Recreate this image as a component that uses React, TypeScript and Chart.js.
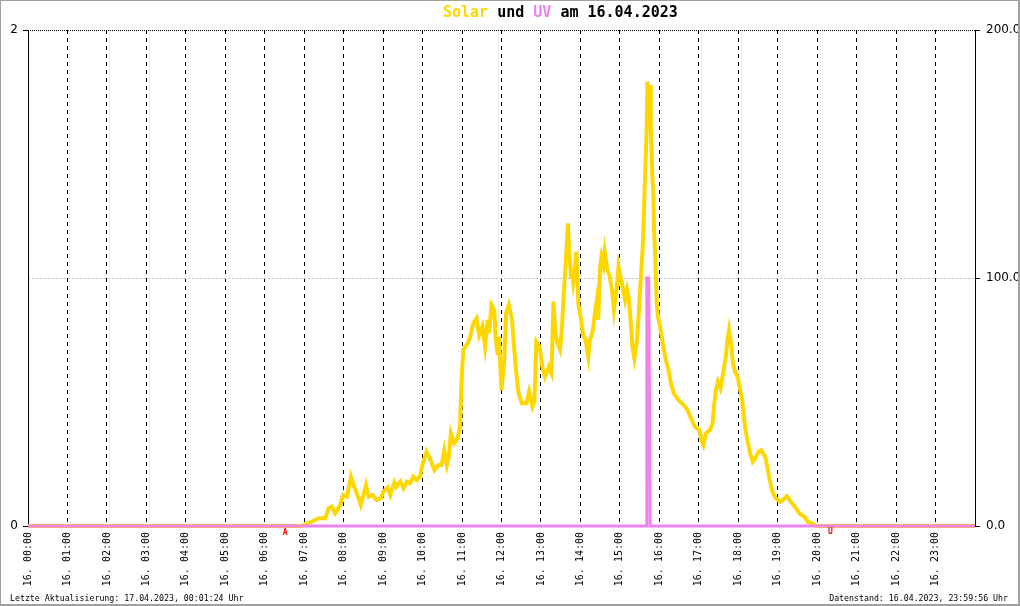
import React, { useEffect, useRef } from "react";
import { Chart, registerables } from "chart.js";

Chart.register(...registerables);

// ---- data ----
const solarTimes = [
  "00:00", "06:57", "06:59", "07:03", "07:11", "07:22", "07:32", "07:37", "07:42", "07:47", "07:55", "07:59",
  "08:05", "08:11", "08:16", "08:22", "08:26", "08:34", "08:38", "08:44", "08:50", "08:57",
  "09:00", "09:07", "09:11", "09:17", "09:20", "09:26", "09:31", "09:36", "09:41", "09:46", "09:51", "09:56", "09:59",
  "10:06", "10:11", "10:18", "10:24", "10:29", "10:33", "10:37", "10:40", "10:43", "10:48", "10:53", "10:57", "10:59",
  "11:02", "11:07", "11:12", "11:17", "11:22", "11:26", "11:31", "11:35", "11:39", "11:41", "11:45", "11:49", "11:51", "11:54", "11:56",
  "12:00", "12:04", "12:07", "12:11", "12:16", "12:19", "12:22", "12:26", "12:31", "12:38", "12:42", "12:47", "12:50", "12:53", "12:58",
  "13:02", "13:06", "13:12", "13:16", "13:19", "13:22", "13:25", "13:29", "13:32", "13:35", "13:38", "13:41", "13:43", "13:46", "13:47", "13:49", "13:52", "13:54", "13:57",
  "14:01", "14:04", "14:08", "14:12", "14:14", "14:19", "14:22", "14:25", "14:27", "14:30", "14:32", "14:35", "14:37", "14:41", "14:44", "14:48", "14:51", "14:55", "14:58",
  "15:01", "15:05", "15:08", "15:11", "15:14", "15:17", "15:19", "15:22", "15:26", "15:29", "15:32", "15:35", "15:37", "15:39", "15:41", "15:42", "15:44", "15:46", "15:47", "15:49", "15:51", "15:52", "15:54", "15:56", "15:58",
  "16:02", "16:06", "16:10", "16:14", "16:17", "16:22", "16:29", "16:37", "16:43", "16:47", "16:54",
  "17:01", "17:04", "17:07", "17:11", "17:17", "17:21", "17:23", "17:26", "17:29", "17:33", "17:37", "17:41", "17:43", "17:46", "17:49", "17:52", "17:55", "17:59",
  "18:02", "18:06", "18:08", "18:11", "18:14", "18:18", "18:22", "18:26", "18:31", "18:35", "18:41", "18:44", "18:48", "18:52", "18:57",
  "19:04", "19:08", "19:14", "19:20", "19:26", "19:33", "19:40", "19:46", "19:54", "19:59", "24:00",
];
const solarValues = [
  0, 0, 0.4, 0.8, 1.7, 3.1, 3.1, 7.1, 7.8, 5.1, 8.5, 12.5,
  11.8, 19.9, 15.8, 11.8, 8.5, 16.5, 11.8, 12.5, 10.5, 11.2,
  13.8, 15.6, 12.5, 17.5, 15.8, 17.9, 15.2, 17.9, 17.2, 19.9, 18.5, 19.9, 23.9,
  30.0, 27.3, 22.6, 24.6, 24.6, 30.6, 24.6, 27.9, 37.4, 33.3, 35.3, 40.0, 57.5,
  71.0, 73.0, 75.7, 81.7, 83.7, 77.0, 80.4, 72.3, 83.1, 77.7, 89.1, 87.1, 76.3, 69.0, 76.3,
  54.8, 65.6, 85.8, 89.1, 83.1, 72.3, 62.9, 53.5, 49.5, 49.5, 54.2, 48.1, 50.1, 74.3, 72.3,
  64.2, 60.2, 64.2, 61.6, 90.5, 77.7, 73.7, 71.0, 80.4, 95.2, 107.3, 122.0, 110.0, 100.5, 103.2, 98.5, 105.2, 110.6, 89.1,
  83.1, 77.0, 75.0, 68.3, 74.4, 79.0, 85.8, 91.1, 83.1, 104.6, 108.6, 105.2, 110.6, 103.2, 101.2, 95.2, 87.1, 95.8, 104.6,
  100.5, 95.2, 91.1, 95.2, 91.1, 80.4, 72.3, 67.6, 75.0, 87.1, 100.5, 114.0, 130.1, 146.2, 162.4, 179.2, 170.4, 177.8, 160.4, 143.5, 132.8, 119.4, 107.3, 89.8, 84.4,
  79.0, 72.3, 66.9, 62.9, 58.2, 53.5, 50.8, 48.8, 46.8, 44.1, 40.0,
  38.7, 34.7, 32.7, 37.4, 38.7, 41.4, 48.1, 54.8, 58.2, 55.5, 61.6, 68.3, 73.7, 79.0, 73.7, 65.6, 62.2, 60.2,
  56.2, 50.8, 45.4, 38.7, 34.7, 29.3, 25.9, 27.3, 30.0, 30.6, 27.9, 23.9, 18.5, 13.8, 11.2,
  9.8, 10.5, 12.1, 9.8, 7.8, 5.1, 3.8, 1.7, 0.8, 0, 0,
];
const uvTimes = ["00:00", "15:40", "15:41", "15:44", "15:45", "15:46", "24:00"];
const uvValues = [0, 0, 1.0, 1.0, 0.5, 0, 0];

const hourTickLabels = [
  "16. 00:00", "16. 01:00", "16. 02:00", "16. 03:00", "16. 04:00", "16. 05:00",
  "16. 06:00", "16. 07:00", "16. 08:00", "16. 09:00", "16. 10:00", "16. 11:00",
  "16. 12:00", "16. 13:00", "16. 14:00", "16. 15:00", "16. 16:00", "16. 17:00",
  "16. 18:00", "16. 19:00", "16. 20:00", "16. 21:00", "16. 22:00", "16. 23:00",
];
const uvAxisRange = [0, 2];
const solarAxisRange = [0, 200];
const sunriseTime = "06:31";
const sunsetTime = "20:20";
const titleParts: [string, string][] = [
  ["Solar", "#FFD700"],
  [" und ", "#000000"],
  ["UV", "#EE82EE"],
  [" am 16.04.2023", "#000000"],
];
const footerLeft = "Letzte Aktualisierung: 17.04.2023, 00:01:24 Uhr";
const footerRight = "Datenstand: 16.04.2023, 23:59:56 Uhr";

const toHours = (t: string) => {
  const [h, m] = t.split(":").map(Number);
  return h + m / 60;
};

const MONO = '"DejaVu Sans Mono", monospace';

const textPlugin = {
  id: "extraTexts",
  afterDraw(chart: any) {
    const ctx = chart.ctx as CanvasRenderingContext2D;
    ctx.save();
    // title
    ctx.font = `bold 15px ${MONO}`;
    ctx.textAlign = "left";
    ctx.textBaseline = "alphabetic";
    let x = 443;
    for (const [t, c] of titleParts) {
      ctx.fillStyle = c;
      ctx.fillText(t, x, 17);
      x += ctx.measureText(t).width;
    }
    // footers
    ctx.font = `8.25px ${MONO}`;
    ctx.fillStyle = "#000";
    ctx.textAlign = "left";
    ctx.fillText(footerLeft, 10, 601);
    ctx.textAlign = "right";
    ctx.fillText(footerRight, 1008, 601);
    // sunrise / sunset markers
    const xs = chart.scales.x;
    ctx.font = `bold 8px ${MONO}`;
    ctx.fillStyle = "#ff0000";
    ctx.textAlign = "center";
    ctx.fillText("A", xs.getPixelForValue(toHours(sunriseTime)), 535);
    ctx.fillText("U", xs.getPixelForValue(toHours(sunsetTime)), 534);
    // outer frame
    ctx.fillStyle = "#a0a0a0";
    ctx.fillRect(0, 0, 1020, 1);
    ctx.fillRect(0, 0, 1, 606);
    ctx.fillRect(1018, 0, 2, 606);
    ctx.fillRect(0, 604, 1020, 2);
    ctx.restore();
  },
};

export default function App() {
  const ref = useRef<HTMLCanvasElement>(null);

  useEffect(() => {
    document.body.style.margin = "0";
    const canvas = ref.current;
    if (!canvas) return;

    const solarData = solarTimes.map((t, i) => ({ x: toHours(t), y: solarValues[i] }));
    const uvData = uvTimes.map((t, i) => ({ x: toHours(t), y: uvValues[i] }));

    const chart = new Chart(canvas, {
      type: "line",
      data: {
        datasets: [
          {
            label: "UV",
            data: uvData,
            yAxisID: "y",
            borderColor: "#EE82EE",
            borderWidth: 3,
            pointRadius: 0,
            tension: 0,
            clip: false as any,
          },
          {
            label: "Solar",
            data: solarData,
            yAxisID: "y1",
            borderColor: "#FFD700",
            borderWidth: 4,
            pointRadius: 0,
            tension: 0,
            borderJoinStyle: "miter",
            clip: false as any,
          },
        ],
      },
      plugins: [textPlugin],
      options: {
        animation: false,
        responsive: false,
        devicePixelRatio: 1,
        parsing: false as any,
        normalized: true,
        layout: { padding: { top: 30, left: 0, right: 0, bottom: 0 } },
        plugins: {
          legend: { display: false },
          title: { display: false },
          tooltip: { enabled: false },
        },
        scales: {
          x: {
            type: "linear",
            min: 0,
            max: 24,
            position: "bottom",
            afterFit: (s: any) => {
              s.height = 80;
            },
            ticks: {
              stepSize: 1,
              maxTicksLimit: 30,
              autoSkip: false,
              minRotation: 90,
              maxRotation: 90,
              padding: 6,
              color: "#000",
              font: { family: MONO, size: 10 },
              callback: (v: any) => {
                const n = Number(v);
                return n >= 0 && n < 24 && Number.isInteger(n) ? hourTickLabels[n] : "";
              },
            },
            grid: {
              drawTicks: false,
              lineWidth: 1,
              color: (c: any) =>
                c.tick && c.tick.value > 0 && c.tick.value < 24 ? "#000000" : "rgba(0,0,0,0)",
            },
            border: { display: false, dash: [4, 4] },
          },
          y: {
            type: "linear",
            position: "left",
            min: uvAxisRange[0],
            max: uvAxisRange[1],
            afterFit: (s: any) => {
              s.width = 28;
            },
            ticks: {
              stepSize: 2,
              padding: 5,
              color: "#000",
              font: { family: '"DejaVu Sans", sans-serif', size: 12 },
              callback: (v: any) => String(v),
            },
            grid: {
              drawOnChartArea: false,
              drawTicks: true,
              tickLength: 5,
              tickColor: "#000",
            },
            border: { display: true, color: "#000", width: 1 },
          },
          y1: {
            type: "linear",
            position: "right",
            min: solarAxisRange[0],
            max: solarAxisRange[1],
            afterFit: (s: any) => {
              s.width = 45;
            },
            ticks: {
              stepSize: 100,
              padding: 6,
              color: "#000",
              font: { family: '"DejaVu Sans", sans-serif', size: 12 },
              callback: (v: any) => Number(v).toFixed(1),
            },
            grid: {
              drawOnChartArea: true,
              drawTicks: true,
              tickLength: 5,
              tickColor: "#000",
              lineWidth: 1,
              color: (c: any) => {
                if (!c.tick) return "#000";
                if (c.tick.value >= 200) return "#000000";
                if (c.tick.value > 0) return "#c0c0c0";
                return "rgba(0,0,0,0)";
              },
            },
            border: {
              display: true,
              color: "#000",
              width: 1,
              dash: (c: any) => (c.tick && c.tick.value >= 200 ? [1, 1] : [2, 2]),
            },
          },
        },
      },
    });

    return () => {
      chart.destroy();
    };
  }, []);

  return (
    <div style={{ position: "absolute", left: 0, top: 0, width: 1020, height: 606, background: "#fff" }}>
      <canvas ref={ref} width={1020} height={606} style={{ display: "block" }} />
    </div>
  );
}
